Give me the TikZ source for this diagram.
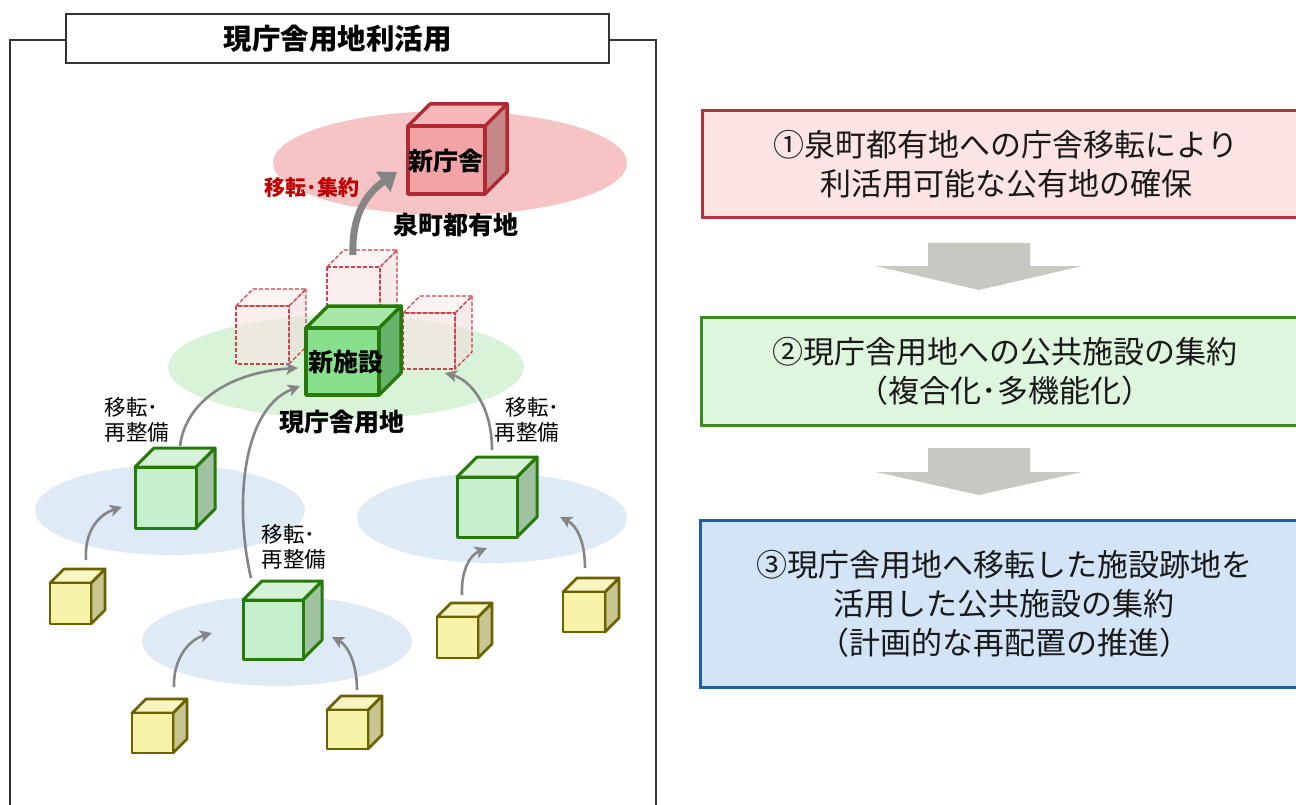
\documentclass[tikz,border=0pt]{standalone}
\usepackage{fontspec}
\setmainfont{Noto Sans CJK JP}
\usetikzlibrary{arrows.meta}

\definecolor{framegray}{HTML}{333333}
\definecolor{redfield}{HTML}{F7C4C5}
\definecolor{greenfield}{HTML}{D9F3D9}
\definecolor{bluefield}{HTML}{DEEBF7}
\definecolor{redline}{HTML}{B02A32}
\definecolor{greenline}{HTML}{267A0A}
\definecolor{oliveline}{HTML}{6B6100}
\definecolor{arrowgray}{HTML}{858585}
\definecolor{blockgray}{HTML}{C8C8C3}
\definecolor{labelred}{HTML}{C00000}
\definecolor{stepred}{HTML}{B5343C}
\definecolor{stepredfill}{HTML}{FCE4E4}
\definecolor{stepgreen}{HTML}{3B8A21}
\definecolor{stepgreenfill}{HTML}{DEF5DE}
\definecolor{stepblue}{HTML}{1F5FA0}
\definecolor{stepbluefill}{HTML}{D2E4F6}

\newcommand{\setfs}[1]{\fontsize{#1}{#1}\selectfont}

% cube: name, x, y (front top-left), width, height, depth, kind
\newcommand{\cubeat}[7]{%
  \filldraw[#7side] ({#2+#4},#3) -- ++(#6,-#6) -- ++(0,#5) -- ++(-#6,#6) -- cycle;
  \filldraw[#7top] (#2,#3) -- ++(#6,-#6) -- ++(#4,0) -- ++(-#6,#6) -- cycle;
  \filldraw[#7front] (#2,#3) rectangle ++(#4,#5);
  \coordinate (#1) at ({#2+#4/2},{#3+#5/2});
}

\begin{document}
\begin{tikzpicture}[x=1pt,y=-1pt,
  frameline/.style={draw=framegray,line width=1.2pt},
  titlebox/.style={draw=framegray,line width=1.5pt,fill=white,minimum width=543pt,minimum height=49pt,inner sep=0pt,font=\setfs{28.5}\bfseries},
  cubebase/.style={line width=3pt,line join=round},
  redfront/.style={cubebase,line width=3.5pt,draw=redline,fill={rgb,255:red,242;green,163;blue,166}},
  redtop/.style={cubebase,line width=3.5pt,draw=redline,fill={rgb,255:red,245;green,183;blue,186}},
  redside/.style={cubebase,line width=3.5pt,draw=redline,fill={rgb,255:red,198;green,135;blue,139}},
  bigfront/.style={cubebase,line width=3.5pt,draw=greenline,fill={rgb,255:red,136;green,224;blue,140}},
  bigtop/.style={cubebase,line width=3.5pt,draw=greenline,fill={rgb,255:red,167;green,232;blue,168}},
  bigside/.style={cubebase,line width=3.5pt,draw=greenline,fill={rgb,255:red,102;green,179;blue,106}},
  midfront/.style={cubebase,draw=greenline,fill={rgb,255:red,198;green,239;blue,206}},
  midtop/.style={cubebase,draw=greenline,fill={rgb,255:red,214;green,243;blue,218}},
  midside/.style={cubebase,draw=greenline,fill={rgb,255:red,160;green,194;blue,160}},
  smallfront/.style={cubebase,line width=2.8pt,draw=oliveline,fill={rgb,255:red,246;green,242;blue,168}},
  smalltop/.style={cubebase,line width=2.8pt,draw=oliveline,fill={rgb,255:red,248;green,245;blue,194}},
  smallside/.style={cubebase,line width=2.8pt,draw=oliveline,fill={rgb,255:red,200;green,198;blue,144}},
  ghostbase/.style={draw={rgb,255:red,200;green,70;blue,75},line width=1.4pt,dash pattern=on 4pt off 2pt,fill opacity=0.6,line join=round},
  ghostfront/.style={ghostbase,fill={rgb,255:red,249;green,227;blue,227}},
  ghosttop/.style={ghostbase,fill={rgb,255:red,251;green,236;blue,236}},
  ghostside/.style={ghostbase,fill={rgb,255:red,240;green,220;blue,220}},
  moveline/.style={draw=arrowgray,line width=2.6pt,-{Stealth[length=12pt,width=12pt,inset=3pt]}},
  movelbl/.style={align=center,inner sep=0pt,font=\setfs{21.5}},
  boldlbl/.style={inner sep=0pt,font=\setfs{25}\bfseries},
  stepbox/.style={line width=3pt,minimum width=608pt,inner sep=0pt,align=center,font=\fontsize{31}{39}\selectfont,text=black!90}
]
\useasboundingbox (0,0) rectangle (1296,805);
\fill[white] (0,0) rectangle (1296,805);

% outer frame with title tab
\draw[frameline] (66,40) -- (10,40) -- (10,810);
\draw[frameline] (609,40) -- (656,40) -- (656,810);
\node[titlebox] (title) at (337.5,38.5) {現庁舎用地利活用};

% sites
\fill[redfield] (450,163) ellipse [x radius=177pt, y radius=52pt];
\fill[greenfield] (346,367) ellipse [x radius=178pt, y radius=52pt];
\fill[bluefield] (170,510) ellipse [x radius=135pt, y radius=45pt];
\fill[bluefield] (492,518) ellipse [x radius=135pt, y radius=45pt];
\fill[bluefield] (277,641) ellipse [x radius=135pt, y radius=45pt];

% facilities moved into the current site (outlines)
\cubeat{ghostL}{236}{306}{53}{58}{17}{ghost}
\cubeat{ghostC}{327}{267}{53}{60}{17}{ghost}
\cubeat{ghostR}{403}{313}{52}{56}{17}{ghost}

% new city hall
\cubeat{hall}{408}{126}{77}{68}{22}{red}
% new complex facility
\cubeat{complex}{306}{328}{73}{67}{22}{big}
% relocated facilities
\cubeat{facL}{135}{467}{61}{61}{19}{mid}
\cubeat{facR}{457}{477}{60}{60}{20}{mid}
\cubeat{facB}{243}{600}{60}{59}{19}{mid}
% existing small facilities
\cubeat{y1}{50}{583}{41}{41}{14}{small}
\cubeat{y2}{132}{713}{41}{40}{14}{small}
\cubeat{y3}{327}{710}{41}{39}{14}{small}
\cubeat{y4}{437}{617}{41}{41}{14}{small}
\cubeat{y5}{563}{592}{42}{40}{14}{small}

% connector end points
\coordinate (hallIn) at (397,172);
\coordinate (ghostOut) at (353,255);
\coordinate (cxIn1) at (298,368);
\coordinate (cxIn2) at (300,386);
\coordinate (cxIn3) at (445,373);
\coordinate (facLout) at (180,446);
\coordinate (facBout) at (251,578);
\coordinate (facRout) at (492,450);
\coordinate (facLin) at (122,507);
\coordinate (facRin1) at (487,548);
\coordinate (facRin2) at (560,517);
\coordinate (facBin1) at (212,633);
\coordinate (facBin2) at (332,637);
\coordinate (y1out) at (86,560);
\coordinate (y2out) at (174,687);
\coordinate (y3out) at (357,690);
\coordinate (y4out) at (462,595);
\coordinate (y5out) at (585,568);

% relocation of the city hall
\draw[draw=arrowgray,line width=7pt,-{Triangle[length=17pt,width=24pt]}]
  (ghostOut) .. controls (351,205) and (376,187) .. (hallIn);

% relocation arrows
\draw[moveline] (y1out) .. controls (84,530) and (100,514) .. (facLin);
\draw[moveline] (facLout) .. controls (186,400) and (232,372) .. (cxIn1);
\draw[moveline] (facBout) .. controls (235,510) and (240,410) .. (cxIn2);
\draw[moveline] (facRout) .. controls (492,405) and (470,380) .. (cxIn3);
\draw[moveline] (y4out) .. controls (461,570) and (470,555) .. (facRin1);
\draw[moveline] (y5out) .. controls (585,540) and (576,525) .. (facRin2);
\draw[moveline] (y2out) .. controls (173,660) and (188,640) .. (facBin1);
\draw[moveline] (y3out) .. controls (357,662) and (347,645) .. (facBin2);

% labels
\node[boldlbl] (hallLbl) at (446,161) {新庁舎};
\node[boldlbl] (complexLbl) at (346,362) {新施設};
\node[boldlbl] (izumiLbl) at (456,225) {泉町都有地};
\node[boldlbl] (siteLbl) at (342,422) {現庁舎用地};
\node[inner sep=0pt,font=\setfs{21}\bfseries,text=labelred] (moveLbl) at (312,188) {移転･集約};
\node[movelbl,align=left] (mvL) at (137,420) {移転･\\[3pt]再整備};
\node[movelbl,align=left] (mvB) at (294,547) {移転･\\[3pt]再整備};
\node[movelbl,align=right] (mvR) at (527,420) {移転･\\[3pt]再整備};

% step boxes
\node[stepbox,draw=stepred,fill=stepredfill,minimum height=107pt] (s1) at (1006,164.5)
  {①泉町都有地への庁舎移転により\\利活用可能な公有地の確保};
\node[stepbox,draw=stepgreen,fill=stepgreenfill,minimum height=108pt] (s2) at (1005,371)
  {②現庁舎用地への公共施設の集約\\（複合化･多機能化）};
\node[stepbox,draw=stepblue,fill=stepbluefill,minimum height=167pt] (s3) at (1004,603.5)
  {③現庁舎用地へ移転した施設跡地を\\活用した公共施設の集約\\（計画的な再配置の推進）};

% block arrows between the steps
\fill[blockgray] (928,243) -- (1030,243) -- (1030,266) -- (1082,266) -- (979,290) -- (876,266) -- (928,266) -- cycle;
\fill[blockgray] (928,448) -- (1030,448) -- (1030,472) -- (1082,472) -- (979,495) -- (876,472) -- (928,472) -- cycle;
\end{tikzpicture}
\end{document}
